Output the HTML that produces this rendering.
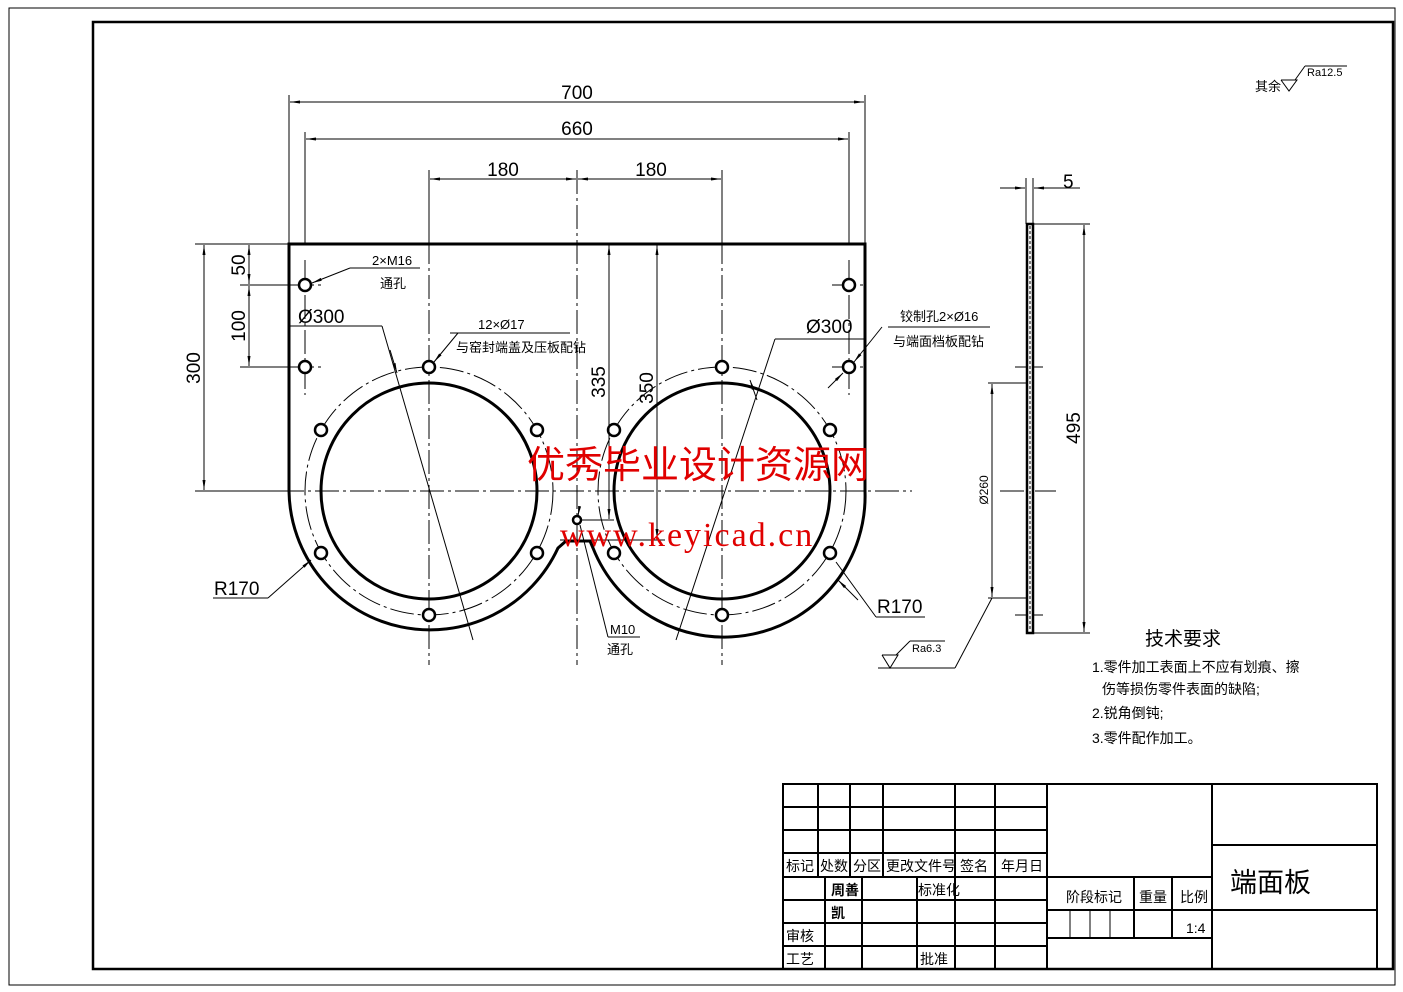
<!DOCTYPE html>
<html><head><meta charset="utf-8"><style>
html,body{margin:0;padding:0;background:#fff;}
svg{display:block;}
text{font-family:"Liberation Sans","Noto Sans CJK SC",sans-serif;fill:#000;}
</style></head><body>
<svg width="1403" height="992" viewBox="0 0 1403 992" xmlns="http://www.w3.org/2000/svg">
<defs>
<marker id="a" viewBox="0 0 10 4" refX="10" refY="2" markerWidth="10" markerHeight="4" markerUnits="userSpaceOnUse" orient="auto-start-reverse"><path d="M0,0.5 L10,2 L0,3.5z" fill="#000"/></marker>
</defs>
<rect x="9" y="8" width="1386" height="977" fill="none" stroke="#000" stroke-width="1"/>
<rect x="93" y="22" width="1300" height="947" fill="none" stroke="#000" stroke-width="2.5"/>

<g stroke="#000" stroke-width="1" stroke-dasharray="24,4,3,4" fill="none">
<line x1="429" y1="170" x2="429" y2="665"/>
<line x1="722" y1="170" x2="722" y2="665"/>
<line x1="577" y1="170" x2="577" y2="665"/>
<line x1="280" y1="491" x2="912" y2="491"/>
<line x1="1000" y1="491" x2="1056" y2="491"/>
<circle cx="429" cy="491" r="124"/>
<circle cx="722" cy="491" r="124"/>
<line x1="305" y1="260" x2="305" y2="395"/>
<line x1="849" y1="260" x2="849" y2="395"/>
<line x1="290" y1="285" x2="322" y2="285"/><line x1="290" y1="367" x2="322" y2="367"/>
<line x1="832" y1="285" x2="864" y2="285"/><line x1="832" y1="367" x2="864" y2="367"/>
</g>

<path d="M289,491 L289,244 L865,244 L865,491 A141,141 0 0 1 593,548 L590,541 L566,541 L558,548 A141,141 0 0 1 289,491 Z" fill="none" stroke="#000" stroke-width="3"/>
<circle cx="429" cy="491" r="108" fill="none" stroke="#000" stroke-width="3"/>
<circle cx="722" cy="491" r="108" fill="none" stroke="#000" stroke-width="3"/>

<g fill="#fff" stroke="#000" stroke-width="2.5">
<circle cx="305" cy="285" r="6"/><circle cx="305" cy="367" r="6"/>
<circle cx="849" cy="285" r="6"/><circle cx="849" cy="367" r="6"/>
<circle cx="429" cy="367" r="6"/><circle cx="321" cy="430" r="6"/><circle cx="537" cy="430" r="6"/>
<circle cx="321" cy="553" r="6"/><circle cx="537" cy="553" r="6"/><circle cx="429" cy="615" r="6"/>
<circle cx="722" cy="367" r="6"/><circle cx="614" cy="430" r="6"/><circle cx="830" cy="430" r="6"/>
<circle cx="614" cy="553" r="6"/><circle cx="830" cy="553" r="6"/><circle cx="722" cy="615" r="6"/>
<circle cx="577" cy="520" r="4"/>
</g>

<g stroke="#000" stroke-width="1" fill="none">
<line x1="289" y1="95" x2="289" y2="244"/><line x1="865" y1="95" x2="865" y2="244"/>
<line x1="305" y1="132" x2="305" y2="244"/><line x1="849" y1="132" x2="849" y2="244"/>
<line x1="429" y1="172" x2="429" y2="244"/><line x1="722" y1="172" x2="722" y2="244"/>
<line x1="290" y1="102" x2="864" y2="102" marker-start="url(#a)" marker-end="url(#a)"/>
<line x1="306" y1="139" x2="848" y2="139" marker-start="url(#a)" marker-end="url(#a)"/>
<line x1="430" y1="179" x2="576" y2="179" marker-start="url(#a)" marker-end="url(#a)"/>
<line x1="578" y1="179" x2="721" y2="179" marker-start="url(#a)" marker-end="url(#a)"/>
<line x1="195" y1="244" x2="289" y2="244"/><line x1="195" y1="491" x2="289" y2="491"/>
<line x1="240" y1="285" x2="300" y2="285"/><line x1="240" y1="367" x2="300" y2="367"/>
<line x1="204" y1="245" x2="204" y2="490" marker-start="url(#a)" marker-end="url(#a)"/>
<line x1="249" y1="245" x2="249" y2="284" marker-start="url(#a)" marker-end="url(#a)"/>
<line x1="249" y1="286" x2="249" y2="366" marker-start="url(#a)" marker-end="url(#a)"/>
<line x1="609" y1="245" x2="609" y2="519" marker-start="url(#a)" marker-end="url(#a)"/>
<line x1="657" y1="245" x2="657" y2="539" marker-start="url(#a)" marker-end="url(#a)"/>
<line x1="580" y1="520" x2="614" y2="520"/><line x1="560" y1="540" x2="665" y2="540"/>
<line x1="420" y1="268" x2="350" y2="268"/><line x1="350" y1="268" x2="312" y2="283" marker-end="url(#a)"/>
<line x1="290" y1="326" x2="382" y2="326"/><line x1="382" y1="326" x2="473" y2="640" />
<line x1="390" y1="350" x2="397" y2="373" marker-end="url(#a)"/>
<line x1="470" y1="333" x2="570" y2="333"/><line x1="458" y1="333" x2="434" y2="362" marker-end="url(#a)"/>
<line x1="450" y1="333" x2="470" y2="333"/>
<line x1="775" y1="339" x2="865" y2="339"/><line x1="775" y1="339" x2="676" y2="640"/>
<line x1="757" y1="400" x2="750" y2="380" marker-end="url(#a)"/>
<line x1="888" y1="327" x2="990" y2="327"/><line x1="882" y1="327" x2="854" y2="362" marker-end="url(#a)"/>
<line x1="828" y1="388" x2="843" y2="373" marker-end="url(#a)"/>
<line x1="213" y1="598" x2="268" y2="598"/><line x1="268" y1="598" x2="311" y2="560" marker-end="url(#a)"/>
<line x1="876" y1="617" x2="925" y2="617"/><line x1="876" y1="617" x2="836" y2="562"/>
<line x1="858" y1="600" x2="838" y2="580" marker-end="url(#a)"/>
<line x1="608" y1="637" x2="640" y2="637"/><line x1="608" y1="637" x2="580" y2="525"/>
<line x1="579" y1="510" x2="578" y2="516" marker-end="url(#a)"/>
<line x1="1026" y1="178" x2="1026" y2="224"/><line x1="1033" y1="178" x2="1033" y2="224"/>
<line x1="1000" y1="188" x2="1025" y2="188" marker-end="url(#a)"/>
<line x1="1060" y1="188" x2="1034" y2="188" marker-end="url(#a)"/>
<line x1="1034" y1="188" x2="1080" y2="188"/>
<line x1="1033" y1="224" x2="1090" y2="224"/><line x1="1033" y1="633" x2="1090" y2="633"/>
<line x1="1084" y1="225" x2="1084" y2="632" marker-start="url(#a)" marker-end="url(#a)"/>
<line x1="988" y1="383" x2="1030" y2="383"/><line x1="988" y1="598" x2="1030" y2="598"/>
<line x1="992" y1="384" x2="992" y2="597" marker-start="url(#a)" marker-end="url(#a)"/>
<line x1="1015" y1="367" x2="1043" y2="367"/><line x1="1015" y1="615" x2="1043" y2="615"/>
<line x1="992" y1="598" x2="955" y2="668"/><line x1="955" y1="668" x2="878" y2="668"/>
<polyline points="882,655 890,668 898,655 882,655"/><line x1="896" y1="655" x2="910" y2="641"/><line x1="910" y1="641" x2="945" y2="641"/>
<polyline points="1281,80 1289,91 1297,80 1281,80"/><line x1="1295" y1="80" x2="1305" y2="66"/><line x1="1305" y1="66" x2="1347" y2="66"/>
</g>
<rect x="1027" y="224" width="6" height="409" fill="#fff" stroke="#000" stroke-width="2.5"/>
<line x1="1030" y1="226" x2="1030" y2="631" stroke="#000" stroke-width="1" stroke-dasharray="3,2"/>

<g font-size="19">
<text x="577" y="99" text-anchor="middle">700</text>
<text x="577" y="135" text-anchor="middle">660</text>
<text x="503" y="176" text-anchor="middle">180</text>
<text x="651" y="176" text-anchor="middle">180</text>
<text x="298" y="323">Ø300</text>
<text x="806" y="333">Ø300</text>
<text x="214" y="595">R170</text>
<text x="877" y="613">R170</text>
<text x="1063" y="188">5</text>
<text transform="translate(200,368) rotate(-90)" text-anchor="middle">300</text>
<text transform="translate(245,265) rotate(-90)" text-anchor="middle">50</text>
<text transform="translate(245,326) rotate(-90)" text-anchor="middle">100</text>
<text transform="translate(605,382) rotate(-90)" text-anchor="middle">335</text>
<text transform="translate(653,388) rotate(-90)" text-anchor="middle">350</text>
<text transform="translate(1080,428) rotate(-90)" text-anchor="middle">495</text>
</g>
<g font-size="13">
<text x="372" y="265">2×M16</text>
<text x="380" y="288">通孔</text>
<text x="478" y="329">12×Ø17</text>
<text x="456" y="352">与窑封端盖及压板配钻</text>
<text x="900" y="321">铰制孔2×Ø16</text>
<text x="893" y="346">与端面档板配钻</text>
<text x="610" y="634">M10</text>
<text x="607" y="654">通孔</text>
<text transform="translate(988,490) rotate(-90)" text-anchor="middle" font-size="12">Ø260</text>
<text x="912" y="652" font-size="11">Ra6.3</text>
<text x="1307" y="76" font-size="11">Ra12.5</text>
<text x="1255" y="91">其余</text>
</g>
<text x="1145" y="645" font-size="19">技术要求</text>
<g font-size="14">
<text x="1092" y="672">1.零件加工表面上不应有划痕、擦</text>
<text x="1102" y="694">伤等损伤零件表面的缺陷;</text>
<text x="1092" y="718">2.锐角倒钝;</text>
<text x="1092" y="743">3.零件配作加工。</text>
</g>

<g stroke="#000" stroke-width="2" fill="none">
<rect x="783" y="784" width="594" height="185"/>
<line x1="783" y1="807" x2="1047" y2="807"/><line x1="783" y1="830" x2="1047" y2="830"/>
<line x1="783" y1="853" x2="1047" y2="853"/><line x1="783" y1="877" x2="1212" y2="877"/>
<line x1="783" y1="900" x2="1047" y2="900"/><line x1="783" y1="923" x2="1047" y2="923"/>
<line x1="783" y1="946" x2="1047" y2="946"/>
<line x1="818" y1="784" x2="818" y2="877"/><line x1="850" y1="784" x2="850" y2="877"/>
<line x1="883" y1="784" x2="883" y2="877"/>
<line x1="825" y1="877" x2="825" y2="969"/><line x1="862" y1="877" x2="862" y2="969"/><line x1="917" y1="877" x2="917" y2="969"/>
<line x1="955" y1="784" x2="955" y2="969"/><line x1="995" y1="784" x2="995" y2="969"/>
<line x1="1047" y1="784" x2="1047" y2="969"/><line x1="1212" y1="784" x2="1212" y2="969"/>
<line x1="1047" y1="910" x2="1212" y2="910"/><line x1="1047" y1="938" x2="1212" y2="938"/>
<line x1="1134" y1="877" x2="1134" y2="938"/><line x1="1172" y1="877" x2="1172" y2="938"/>
<line x1="1212" y1="845" x2="1377" y2="845"/><line x1="1212" y1="910" x2="1377" y2="910"/>
</g>
<g stroke="#000" stroke-width="1"><line x1="1070" y1="910" x2="1070" y2="938"/><line x1="1090" y1="910" x2="1090" y2="938"/><line x1="1110" y1="910" x2="1110" y2="938"/></g>
<g font-size="14">
<text x="786" y="871">标记</text><text x="820" y="871">处数</text><text x="853" y="871">分区</text>
<text x="886" y="871">更改文件号</text><text x="960" y="871">签名</text><text x="1001" y="871">年月日</text>
<text x="831" y="895" font-weight="bold">周善</text><text x="918" y="895">标准化</text>
<text x="831" y="918" font-weight="bold">凯</text>
<text x="786" y="941">审核</text><text x="786" y="964">工艺</text><text x="920" y="964">批准</text>
<text x="1066" y="902">阶段标记</text><text x="1139" y="902">重量</text><text x="1180" y="902">比例</text>
<text x="1186" y="933">1:4</text>
</g>
<text x="1230" y="892" font-size="27">端面板</text>

<text x="527" y="478" font-size="38" style="fill:#e00000" font-family="'Noto Serif CJK SC',serif">优秀毕业设计资源网</text>
<text x="560" y="546" font-size="34" style="fill:#e00000;font-family:'Liberation Serif',serif" letter-spacing="2">www.keyicad.cn</text>
</svg>
</body></html>
